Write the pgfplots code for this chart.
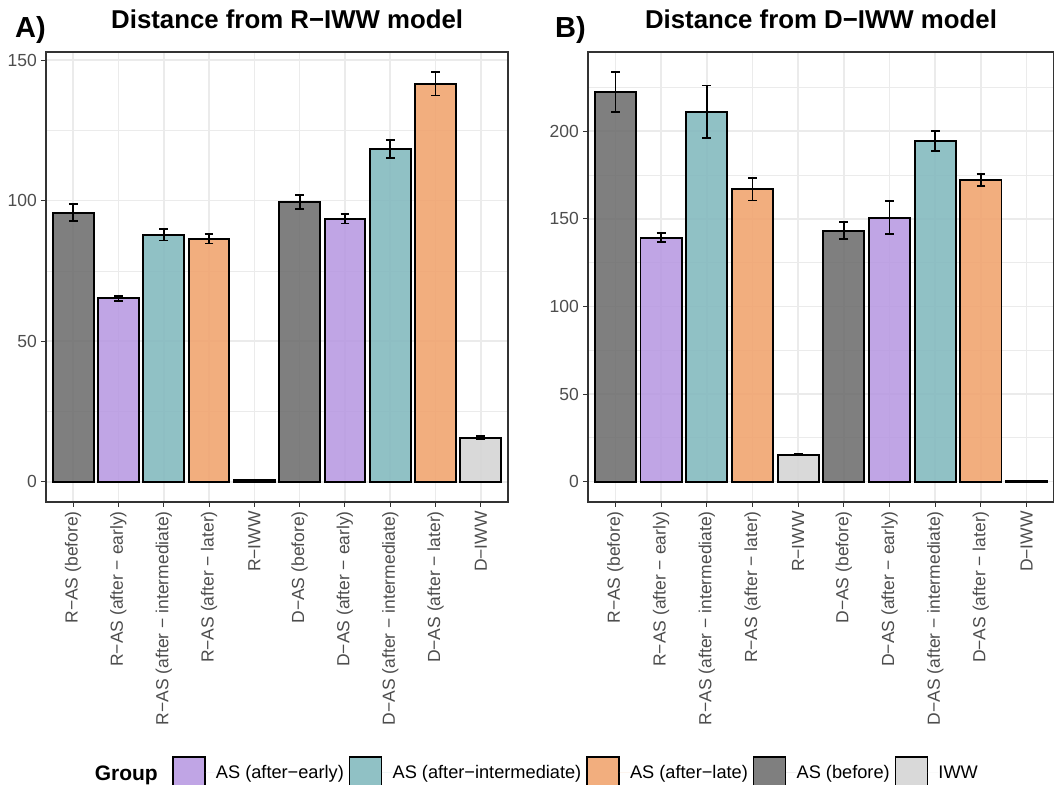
\documentclass[border=0pt]{standalone}
\usepackage{fontspec}
\setmainfont{Liberation Sans}
\usepackage{pgfplots}
\pgfplotsset{compat=1.18}
\definecolor{cbefore}{HTML}{717171}
\definecolor{cearly}{HTML}{B99BE2}
\definecolor{cinter}{HTML}{84BABF}
\definecolor{clate}{HTML}{F1A570}
\definecolor{ciww}{HTML}{D5D5D5}
\definecolor{gray20}{HTML}{333333}
\definecolor{gray30}{HTML}{4D4D4D}
\definecolor{gray92}{HTML}{EBEBEB}
\newcommand{\fs}{\fontsize{17.5}{21}\selectfont}
\newcommand{\fl}{\fontsize{18.2}{22}\selectfont}
\pgfplotsset{
  panel/.style={
    scale only axis, height=450pt,
    xmin=-0.6, xmax=9.6,
    xtick={0,1,2,3,4,5,6,7,8,9},
    xticklabels={R−AS (before),R−AS (after − early),R−AS (after − intermediate),R−AS (after − later),R−IWW,D−AS (before),D−AS (after − early),D−AS (after − intermediate),D−AS (after − later),D−IWW},
    xticklabel style={rotate=90, anchor=east, inner sep=0pt, font=\fs, text=gray30},
    xticklabel shift=4pt,
    yticklabel style={anchor=east, inner sep=0pt, font=\fs, text=gray30},
    yticklabel shift=4pt,
    /pgf/number format/assume math mode=true,
    tick align=outside, tick pos=left,
    major tick length=5pt, minor tick length=0pt,
    major tick style={gray20, line width=1.1pt},
    xmajorgrids, ymajorgrids, yminorgrids,
    major grid style={gray92, line width=1.6pt},
    minor grid style={gray92, line width=0.9pt},
    axis line style={gray20, line width=1.1pt},
    title style={font=\bfseries\fontsize{25.8}{30}\selectfont, anchor=base, inner sep=0pt},
    every axis plot/.append style={line width=1.9pt},
  },
  bars/.style={ybar, bar width=0.9, bar shift=0pt, draw=black, fill=#1, fill opacity=0.9,
    /tikz/line width=1.9pt,
    /pgfplots/error bars/y dir=both, /pgfplots/error bars/y explicit,
    /pgfplots/error bars/error mark=|,
    /pgfplots/error bars/error bar style={black, line width=1.8pt, fill opacity=1},
    /pgfplots/error bars/error mark options={black, line width=1.8pt, mark size=4.4pt}},
}
\begin{document}
\begin{tikzpicture}
\useasboundingbox (0pt,0pt) rectangle (1054pt,784pt);
% ---------------- Panel A ----------------
\begin{axis}[panel, width=462pt, at={(46pt,282pt)}, anchor=south west,
  ymin=-7.2, ymax=152.9, ytick={0,50,100,150}, minor ytick={25,75,125},
  title={Distance from R−IWW model}, title style={at={(axis description cs:0.522,1)}, yshift=17pt},
  legend image code/.code={\draw[#1, line width=1.5pt] (0pt,-16pt) rectangle (32pt,16pt); \path[draw=none] (32pt,0pt) -- (43pt,0pt);},
  legend style={at={(axis description cs:0.2727,-0.6022)}, anchor=west, draw=none, fill=none, inner sep=0pt,
    legend columns=-1, nodes={inner sep=0pt, font=\fl, text=black},
    /tikz/every even column/.append style={column sep=5pt}},
  legend cell align=left]
\addplot[forget plot, bars=cbefore] coordinates {(0,95.7) +- (0,3.0) (5,99.4) +- (0,2.5)};
\addplot[forget plot, bars=cearly] coordinates {(1,65.3) +- (0,0.9) (6,93.6) +- (0,1.7)};
\addplot[forget plot, bars=cinter] coordinates {(2,87.8) +- (0,2.0) (7,118.4) +- (0,3.2)};
\addplot[forget plot, bars=clate] coordinates {(3,86.5) +- (0,1.7) (8,141.6) +- (0,4.2)};
\addplot[forget plot, bars=ciww] coordinates {(4,0.5) +- (0,0.2) (9,15.7) +- (0,0.6)};
\addlegendimage{fill=cearly, fill opacity=0.9, draw=black}
\addlegendentry{AS (after−early)}
\addlegendimage{fill=cinter, fill opacity=0.9, draw=black}
\addlegendentry{AS (after−intermediate)}
\addlegendimage{fill=clate, fill opacity=0.9, draw=black}
\addlegendentry{AS (after−late)}
\addlegendimage{fill=cbefore, fill opacity=0.9, draw=black}
\addlegendentry{AS (before)}
\addlegendimage{fill=ciww, fill opacity=0.9, draw=black}
\addlegendentry{IWW}
\end{axis}
% ---------------- Panel B ----------------
\begin{axis}[panel, width=466pt, at={(588pt,282pt)}, anchor=south west,
  ymin=-11.6, ymax=245.2, ytick={0,50,100,150,200}, minor ytick={25,75,125,175,225},
  title={Distance from D−IWW model}, title style={at={(axis description cs:0.5,1)}, yshift=17pt}]
\addplot[bars=cbefore] coordinates {(0,222.3) +- (0,11.3) (5,143.3) +- (0,5.0)};
\addplot[bars=cearly] coordinates {(1,139.3) +- (0,2.5) (6,150.7) +- (0,9.4)};
\addplot[bars=cinter] coordinates {(2,211.1) +- (0,15.0) (7,194.4) +- (0,5.7)};
\addplot[bars=clate] coordinates {(3,166.9) +- (0,6.4) (8,172.3) +- (0,3.4)};
\addplot[bars=ciww] coordinates {(4,15.4) +- (0,0.4) (9,0.5) +- (0,0.2)};
\end{axis}
\node[anchor=base west, inner sep=0pt, font=\bfseries\fontsize{29}{34}\selectfont] at (15pt,746pt) {A)};
\node[anchor=base west, inner sep=0pt, font=\bfseries\fontsize{29}{34}\selectfont] at (555pt,746pt) {B)};
\node[anchor=base east, inner sep=0pt, font=\bfseries\fontsize{21}{25}\selectfont] at (158pt,4pt) {Group};
\end{tikzpicture}
\end{document}
